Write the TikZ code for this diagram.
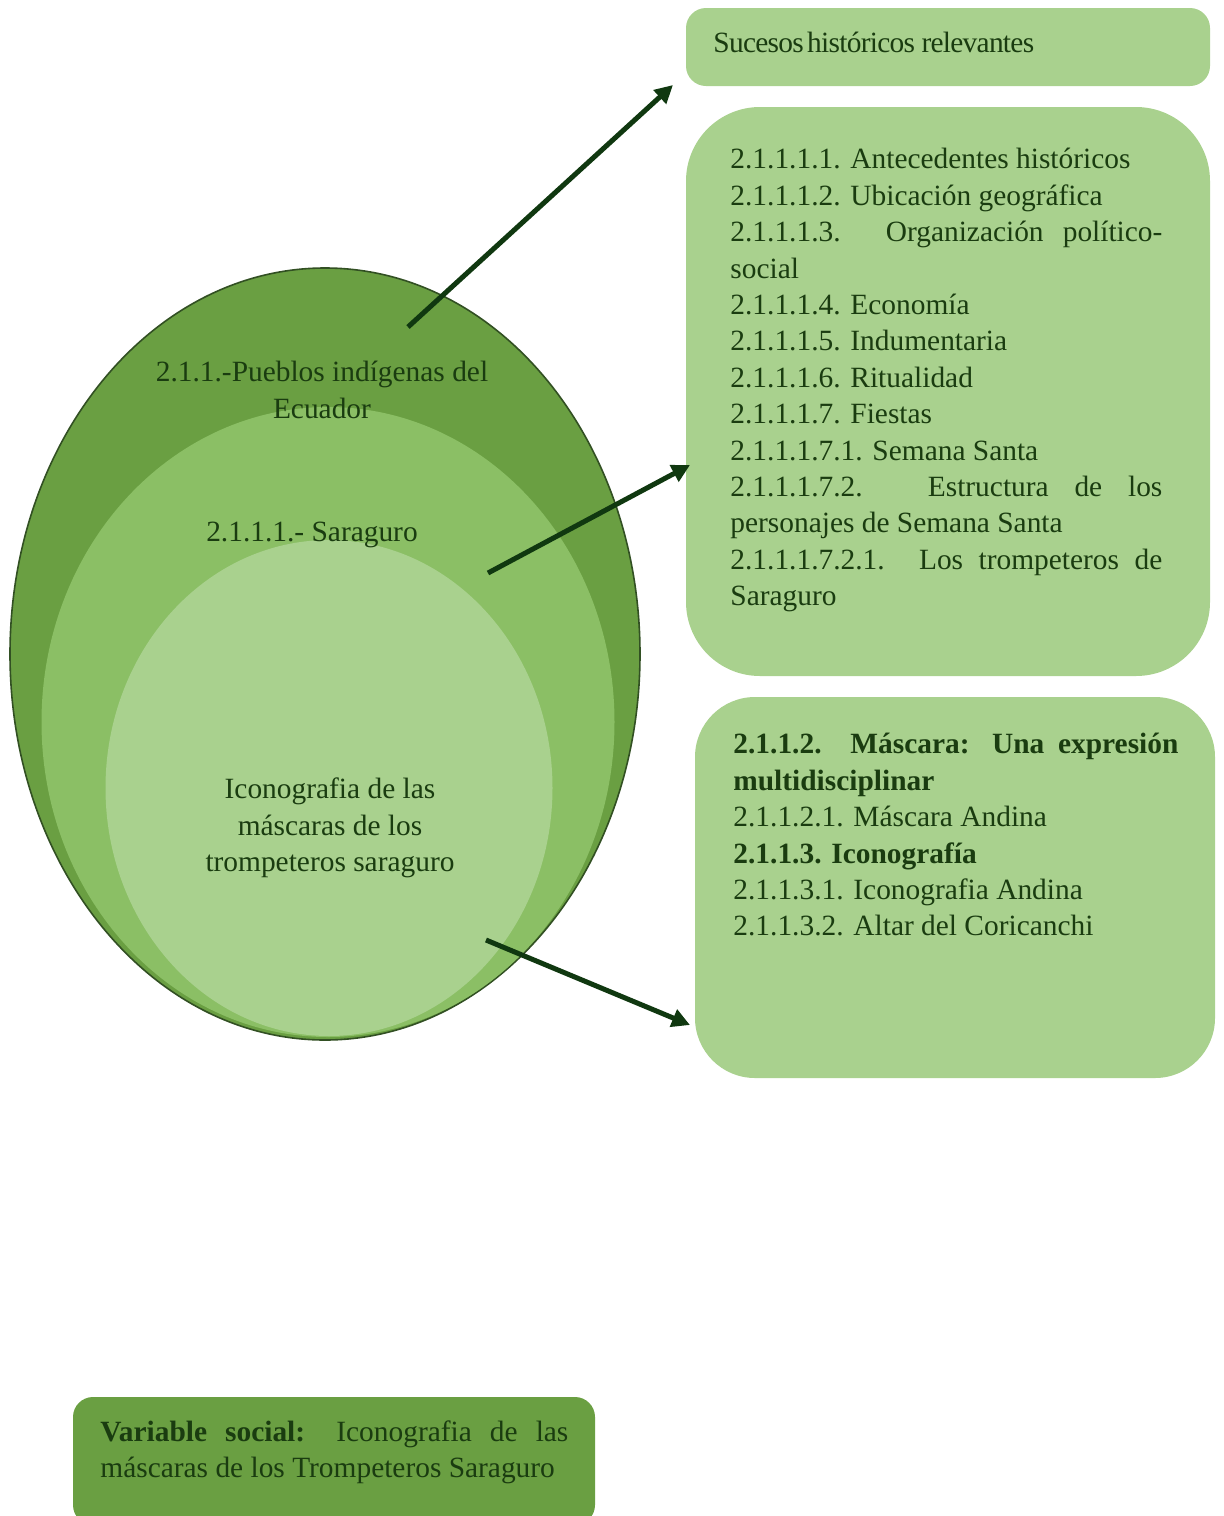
\documentclass[tikz,border=0pt]{standalone}
\usepackage{fontspec}
\setmainfont{Liberation Serif}
\usetikzlibrary{shapes.geometric,arrows.meta}
\definecolor{outerg}{RGB}{106,159,66}
\definecolor{midg}{RGB}{139,191,101}
\definecolor{lightg}{RGB}{169,209,142}
\definecolor{txtg}{RGB}{26,60,16}
\definecolor{arrg}{RGB}{16,56,16}
\definecolor{edgeg}{RGB}{50,80,35}
\begin{document}
\begin{tikzpicture}[x=0.5pt,y=-0.5pt,
  blob/.style={ellipse, inner sep=0pt, draw=none},
  panel/.style={rectangle, inner sep=0pt, fill=lightg},
  label/.style={inner sep=0pt, text=txtg, font=\fontsize{14.7}{18.2}\selectfont},
  body/.style={label, anchor=north west, align=justify},
  conn/.style={draw=arrg, line width=2.5pt, -{Triangle[length=9pt,width=9pt]}}]
\useasboundingbox (0,0) rectangle (1223,1516);

% nested ellipses
\node[blob, fill=outerg, draw=edgeg, line width=0.8pt, minimum width=315pt, minimum height=386pt] (outer) at (325,654) {};
\node[blob, fill=midg, minimum width=286.5pt, minimum height=315pt] (mid) at (328,722) {};
\node[blob, fill=lightg, minimum width=223.5pt, minimum height=248pt] (inner) at (329,788) {};

\node[label, align=center] (t1) at (322,390) {2.1.1.-Pueblos indígenas del\\Ecuador};
\node[label] (t2) at (312,535) {2.1.1.1.- Saraguro};
\node[label, align=center] (t3) at (330,828) {Iconografia de las\\máscaras de los\\trompeteros saraguro};

% boxes
\node[panel, rounded corners=10pt, minimum width=262pt, minimum height=39pt] (sucesos) at (948,47) {};
\node[panel, rounded corners=37pt, minimum width=262pt, minimum height=284.5pt] (lista) at (948,391.5) {};
\node[panel, rounded corners=30pt, minimum width=260pt, minimum height=190.5pt] (mascara) at (955,887.5) {};
\node[panel, fill=outerg, rounded corners=10pt, minimum width=261pt, minimum height=64pt] (variable) at (334,1461) {};

\node[label, anchor=west] (sucesostxt) at (713,42) {\addfontfeature{LetterSpace=-2.5}Sucesos\hspace{0.12em}históricos relevantes};

\node[body, text width=216pt] (listatxt) at (730,148) {%
2.1.1.1.1. Antecedentes históricos\par
2.1.1.1.2. Ubicación geográfica\par
2.1.1.1.3. Organización político-\linebreak social\par
2.1.1.1.4. Economía\par
2.1.1.1.5. Indumentaria\par
2.1.1.1.6. Ritualidad\par
2.1.1.1.7. Fiestas\par
2.1.1.1.7.1. Semana Santa\par
2.1.1.1.7.2. Estructura de los\linebreak personajes de Semana Santa\par
2.1.1.1.7.2.1. Los trompeteros de\linebreak Saraguro\par};

\node[body, text width=222.5pt] (mascaratxt) at (733,733) {%
\textbf{2.1.1.2. Máscara: Una expresión\linebreak multidisciplinar}\par
2.1.1.2.1. Máscara Andina\par
\textbf{2.1.1.3. Iconografía}\par
2.1.1.3.1. Iconografia Andina\par
2.1.1.3.2. Altar del Coricanchi\par};

\node[body, text width=234pt] (variabletxt) at (100,1420) {%
\textbf{Variable social:} Iconografia de las\linebreak máscaras de los Trompeteros Saraguro\par};

% connectors
\coordinate (a1s) at (408,327);
\coordinate (a1e) at (673,85);
\coordinate (a2s) at (488,573);
\coordinate (a2e) at (690,465);
\coordinate (a3s) at (486,940);
\coordinate (a3e) at (690,1025);
\draw[conn] (a1s) -- (a1e);
\draw[conn] (a2s) -- (a2e);
\draw[conn] (a3s) -- (a3e);
\end{tikzpicture}
\end{document}
